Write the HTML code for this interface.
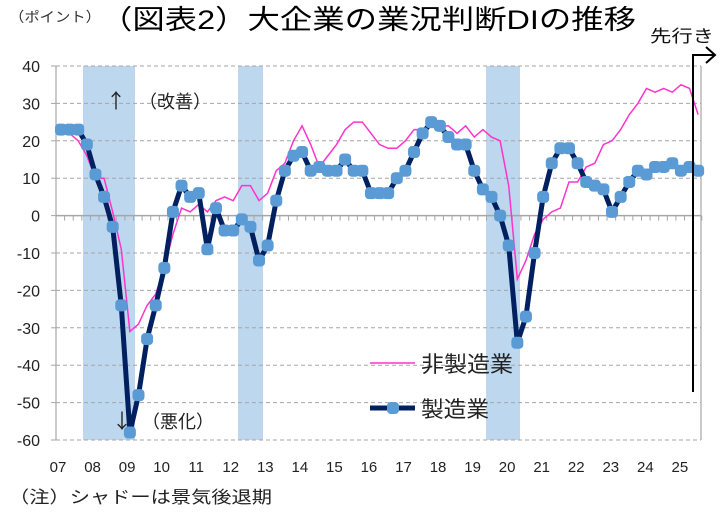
<!DOCTYPE html>
<html><head><meta charset="utf-8"><style>
body{margin:0;background:#fff;}
svg{display:block;font-family:"Liberation Sans","Noto Sans CJK JP",sans-serif;}
</style></head><body>
<svg id="c" width="727" height="517" xmlns="http://www.w3.org/2000/svg">
<rect width="727" height="517" fill="#fff"/>
<rect x="83" y="66" width="52" height="374" fill="#bdd7ee"/>
<rect x="238" y="66" width="25" height="374" fill="#bdd7ee"/>
<rect x="486" y="66" width="34" height="374" fill="#bdd7ee"/>
<g id="grid"></g>
<line x1="56" y1="66" x2="56" y2="440" stroke="#a6a6a6" stroke-width="1.2"/>
<line x1="701" y1="66" x2="701" y2="440" stroke="#a6a6a6" stroke-width="1.2"/>
<g id="series"></g>
<text x="9" y="22" font-size="14" fill="#333" textLength="92" lengthAdjust="spacingAndGlyphs">（ポイント）</text>
<text x="100" y="29" font-size="27" fill="#000" textLength="536" lengthAdjust="spacingAndGlyphs">（図表2）大企業の業況判断DIの推移</text>
<text x="650" y="42" font-size="17" fill="#111" textLength="64" lengthAdjust="spacingAndGlyphs">先行き</text>
<polyline points="693,392 693,55 714,55" fill="none" stroke="#000" stroke-width="2"/>
<polyline points="706,47 715,55 706,63" fill="none" stroke="#000" stroke-width="2"/>
<text x="106" y="108" font-size="20" fill="#222" style="font-family:'Noto Sans CJK JP',sans-serif">↑</text>
<text x="139" y="108" font-size="18" fill="#222" textLength="72" lengthAdjust="spacingAndGlyphs">（改善）</text>
<text x="112" y="428" font-size="20" fill="#222" style="font-family:'Noto Sans CJK JP',sans-serif">↓</text>
<text x="142" y="428" font-size="18" fill="#222" textLength="72" lengthAdjust="spacingAndGlyphs">（悪化）</text>
<line x1="370" y1="363" x2="415" y2="363" stroke="#ff33cc" stroke-width="1.5"/>
<text x="421" y="372" font-size="22" fill="#222" textLength="92" lengthAdjust="spacingAndGlyphs">非製造業</text>
<line x1="370" y1="408" x2="415" y2="408" stroke="#002060" stroke-width="5"/>
<rect x="387" y="402" width="12" height="12" rx="4" fill="#5b9bd5"/>
<text x="421" y="417" font-size="22" fill="#222" textLength="68" lengthAdjust="spacingAndGlyphs">製造業</text>
<text x="9" y="503" font-size="17" fill="#222" textLength="263" lengthAdjust="spacingAndGlyphs">（注）シャドーは景気後退期</text>
</svg>
<script>
const NS="http://www.w3.org/2000/svg";
const Y=v=>66+(40-v)*3.74, X=i=>61+i*8.61;
const g=document.getElementById('grid'), s=document.getElementById('series');
function el(p,t,a,txt){const e=document.createElementNS(NS,t);for(const k in a)e.setAttribute(k,a[k]);if(txt!==undefined)e.textContent=txt;p.appendChild(e);return e;}
for(let v=40;v>=-60;v-=10){
  const y=Y(v);
  if(v!==0) el(g,'line',{x1:56,y1:y,x2:701,y2:y,stroke:'#a6a6a6','stroke-dasharray':'4,3','stroke-width':1});
  el(g,'line',{x1:51,y1:y,x2:56,y2:y,stroke:'#a6a6a6'});
  el(g,'text',{x:40,y:y+6,'font-size':16,'text-anchor':'end',fill:'#222'},String(v));
}
const y0=Y(0);
el(g,'line',{x1:56,y1:y0,x2:701,y2:y0,stroke:'#a6a6a6','stroke-width':1.5});
for(let i=0;i<=75;i++){const x=56+i*8.61;el(g,'line',{x1:x,y1:y0,x2:x,y2:y0+5,stroke:'#a6a6a6'});}
for(let yr=7;yr<=25;yr++){el(g,'text',{x:58+(yr-7)*34.55,y:472,'font-size':15,'text-anchor':'middle',fill:'#222'},(yr<10?'0':'')+yr);}
const nm=[22,22,20,16,10,10,1,-9,-31,-29,-24,-21,-14,-5,2,1,3,1,4,5,4,8,8,4,6,12,14,20,24,19,13,16,19,23,25,25,22,19,18,18,20,23,23,24,24,24,22,24,21,23,21,20,8,-17,-12,-5,-1,1,2,9,9,13,14,19,20,23,27,30,34,33,34,33,35,34,27];
const mf=[23,23,23,19,11,5,-3,-24,-58,-48,-33,-24,-14,1,8,5,6,-9,2,-4,-4,-1,-3,-12,-8,4,12,16,17,12,13,12,12,15,12,12,6,6,6,10,12,17,22,25,24,21,19,19,12,7,5,0,-8,-34,-27,-10,5,14,18,18,14,9,8,7,1,5,9,12,11,13,13,14,12,13,12];
el(s,'polyline',{points:nm.map((v,i)=>X(i)+','+Y(v)).join(' '),fill:'none',stroke:'#ff33cc','stroke-width':1.5});
el(s,'polyline',{points:mf.map((v,i)=>X(i)+','+Y(v)).join(' '),fill:'none',stroke:'#002060','stroke-width':5,'stroke-linejoin':'round'});
mf.forEach((v,i)=>el(s,'rect',{x:X(i)-6,y:Y(v)-6,width:12,height:12,rx:4,fill:'#5b9bd5'}));
</script>
</body></html>
